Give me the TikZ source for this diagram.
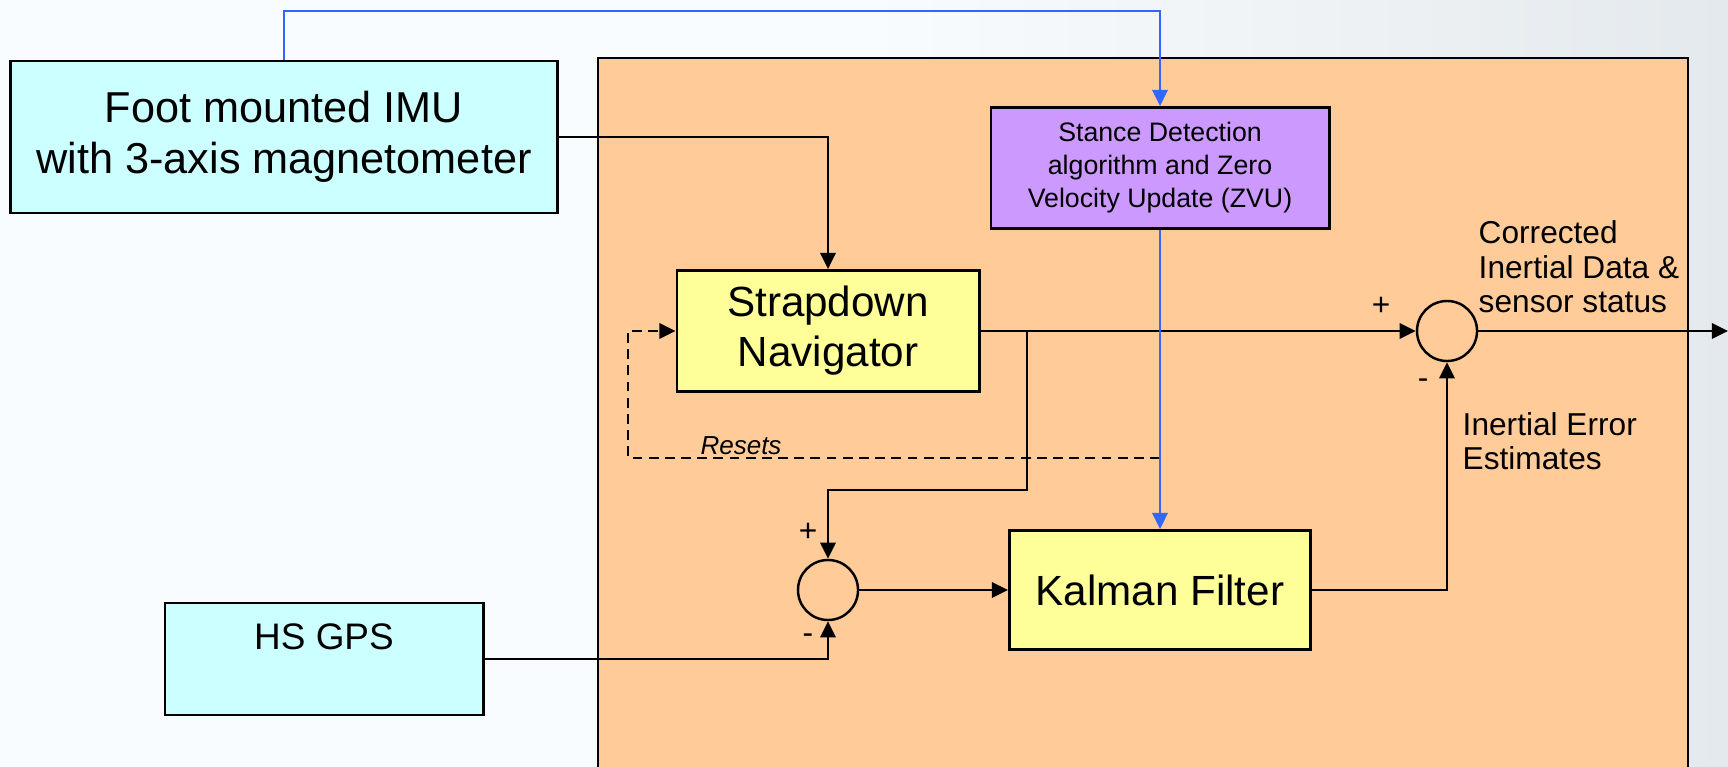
\documentclass[tikz,border=0pt]{standalone}
\usepackage{fontspec}
\setmainfont{Liberation Sans}
\usetikzlibrary{arrows.meta}
\definecolor{sensorcyan}{RGB}{204,255,255}
\definecolor{procorange}{RGB}{255,204,153}
\definecolor{blockyellow}{RGB}{255,255,153}
\definecolor{zvupurple}{RGB}{204,153,255}
\definecolor{zvublue}{RGB}{51,102,255}
\definecolor{bgleft}{RGB}{249,252,254}
\definecolor{bgright}{RGB}{228,233,237}

\begin{document}
\begin{tikzpicture}[x=0.01cm,y=-0.01cm,
    box/.style={shape=rectangle,draw=black,line width=0.8pt,inner sep=0pt,align=center},
    sensor/.style={box,fill=sensorcyan},
    proc/.style={box,fill=blockyellow},
    sum/.style={shape=circle,draw=black,line width=0.7pt,minimum size=0.6cm,inner sep=0pt},
    wire/.style={line width=0.6pt,-{Triangle[length=4.6pt,width=4.4pt]}},
    sign/.style={inner sep=0pt,font=\fontsize{9}{10}\selectfont},
    note/.style={inner sep=0pt,align=left,anchor=west,font=\fontsize{9}{9.8}\selectfont}]
    \useasboundingbox (0,0) rectangle (1728,767);
    \clip (0,0) rectangle (1728,767);
    \shade[left color=bgleft,right color=bgright,middle color=bgleft] (0,0) rectangle (1728,767);
    \draw[fill=procorange,line width=0.8pt] (598,58) rectangle (1688,800);

    \node[sensor,minimum width=5.46cm,minimum height=1.52cm,font=\fontsize{12.3}{14.5}\selectfont] (imu) at (284,137) {Foot mounted IMU\\with 3-axis magnetometer};
    \node[sensor,minimum width=3.18cm,minimum height=1.12cm,font=\fontsize{10.5}{12.6}\selectfont] (gps) at (324,659) {HS GPS\\\mbox{}};
    \node[box,fill=zvupurple,minimum width=3.38cm,minimum height=1.21cm,font=\fontsize{7.6}{9.4}\selectfont] (stance) at (1160,168) {Stance Detection\\algorithm and Zero\\Velocity Update (ZVU)};
    \node[proc,minimum width=3.02cm,minimum height=1.21cm,font=\fontsize{12}{14.2}\selectfont] (strap) at (828,331) {Strapdown\\Navigator};
    \node[proc,minimum width=3.01cm,minimum height=1.19cm,font=\fontsize{12}{14.2}\selectfont] (kalman) at (1160,590) {Kalman Filter};
    \node[sum] (sum1) at (1447,331) {};
    \node[sum] (sum2) at (828,590) {};

    \coordinate (bluetop) at (1160,11);
    \coordinate (split) at (1027,331);
    \coordinate (splitdown) at (1027,490);
    \coordinate (resetfrom) at (1160,458);
    \coordinate (resetcorner) at (628,458);
    \coordinate (out) at (1728,331);

    \node[sign] (plus1) at (1381,306) {+};
    \node[sign] (minus1) at (1423,384) {-};
    \node[sign] (plus2) at (808,532) {+};
    \node[sign] (minus2) at (808,639) {-};
    \node[note] (corrected) at (1478,267) {Corrected\\Inertial Data \&\\sensor status};
    \node[note] (errest) at (1462,441) {Inertial Error\\Estimates};
    \node[inner sep=0pt,font=\fontsize{7.4}{9}\selectfont\itshape] (resets) at (741,446) {Resets};

    \draw[wire,dash pattern=on 2.8pt off 1.8pt] (resetfrom) -- (resetcorner) |- (strap.west);
    \draw[wire] (imu.east) -| (strap.north);
    \path[wire] (strap.east) edge (sum1.west);
    \draw[wire] (split) -- (splitdown) -| (sum2.north);
    \draw[wire] (gps.east) -| (sum2.south);
    \path[wire] (sum2) edge (kalman);
    \draw[wire] (kalman.east) -| (sum1.south);
    \path[wire] (sum1.east) edge (out);
    \draw[wire,draw=zvublue] (imu.north) |- (bluetop) -- (stance.north);
    \draw[wire,draw=zvublue] (stance.south) -- (kalman.north);
\end{tikzpicture}
\end{document}
